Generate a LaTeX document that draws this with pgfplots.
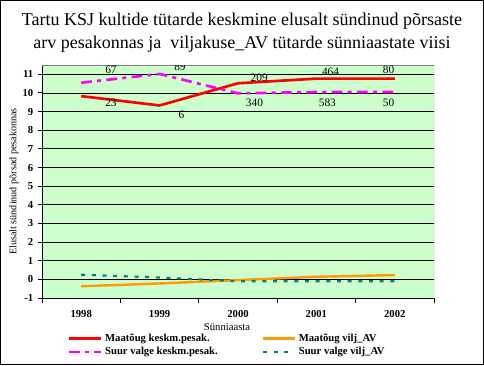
\documentclass[border=0pt]{standalone}
\usepackage{pgfplots}
\pgfplotsset{compat=1.18}
\usepackage{fontspec}
\setmainfont{Liberation Serif}
\definecolor{bgg}{HTML}{CCFFCC}
\definecolor{cred}{HTML}{FF0000}
\definecolor{corange}{HTML}{FF9900}
\definecolor{cmag}{HTML}{FF00FF}
\definecolor{cteal}{HTML}{008080}
\begin{document}
\begin{tikzpicture}
\path[use as bounding box] (0,0) rectangle (363pt,273.75pt);
\draw[black, line width=1pt] (0.5pt,0.5pt) rectangle (362.5pt,273.25pt);
\node[align=center, font=\fontsize{13.5}{17.25}\selectfont] at (181.5pt,249pt)
 {Tartu KSJ kultide tütarde keskmine elusalt sündinud põrsaste\\arv pesakonnas ja\ \ viljakuse\_AV tütarde sünniaastate viisi};
\begin{axis}[
  at={(31.5pt,50.25pt)}, anchor=south west,
  scale only axis, width=294pt, height=174.75pt,
  xmin=-0.5, xmax=4.5, ymin=-1, ymax=11.5,
  axis background/.style={fill=bgg},
  axis x line=bottom, axis y line=left,
  axis line style={-, black, line width=0.75pt},
  xtick={0,1,2,3,4}, xticklabels={1998,1999,2000,2001,2002},
  major x tick style={draw=none},
  minor xtick={-0.5,0.5,1.5,2.5,3.5,4.5},
  minor x tick style={black, line width=0.75pt},
  minor tick length=4pt,
  ytick={-1,0,...,11},
  major tick length=3pt,
  y tick style={black, line width=0.75pt},
  tick align=outside,
  ymajorgrids, major grid style={black, line width=0.6pt},
  /pgf/number format/assume math mode=true,
  ticklabel style={font=\fontsize{8}{9}\bfseries},
  xticklabel style={yshift=-3pt},
  xlabel={Sünniaasta},
  xlabel style={at={(axis description cs:0.472,-0.123)}, anchor=center, font=\fontsize{8}{9}\selectfont},
  ylabel={Elusalt sündinud põrsad pesakonnas},
  ylabel style={at={(axis description cs:-0.0714,0.5)}, anchor=center, font=\fontsize{7.6}{8}\selectfont},
  legend columns=2,
  legend style={at={(axis description cs:0.055,-0.13)}, anchor=north west, draw=none, fill=none,
    font=\fontsize{8}{9}\bfseries, row sep=-1pt,
    /tikz/every even column/.append style={column sep=31pt}},
  legend cell align=left,
  legend image code/.code={\draw[#1] (0pt,0pt) -- (24pt,0pt);},
]
\addplot[cred, line width=2pt] coordinates {(0,9.83) (1,9.33) (2,10.52) (3,10.77) (4,10.77)};
\addlegendentry{Maatõug keskm.pesak.}
\addplot[corange, line width=1.8pt] coordinates {(0,-0.37) (1,-0.22) (2,-0.04) (3,0.14) (4,0.23)};
\addlegendentry{Maatõug vilj\_AV}
\addplot[cmag, line width=2pt, dash pattern=on 8pt off 4pt on 3pt off 4pt] coordinates {(0,10.55) (1,11.02) (2,9.98) (3,10.05) (4,10.05)};
\addlegendentry{Suur valge keskm.pesak.}
\addplot[cteal, line width=1.6pt, dash pattern=on 3pt off 5pt] coordinates {(0,0.25) (1,0.1) (2,-0.1) (3,-0.1) (4,-0.1)};
\addlegendentry{Suur valge vilj\_AV}
\draw[gray, line width=0.6pt] (rel axis cs:0,1) -- (rel axis cs:1,1) -- (rel axis cs:1,0);
\begin{scope}[every node/.style={font=\fontsize{8.5}{9}\selectfont, inner sep=0pt}]
\node at (axis cs:0.38,11.23) {67};
\node at (axis cs:0.38,9.46) {23};
\node at (axis cs:1.26,11.39) {89};
\node at (axis cs:1.28,8.82) {6};
\node at (axis cs:2.27,10.80) {209};
\node at (axis cs:2.21,9.46) {340};
\node at (axis cs:3.18,11.12) {464};
\node at (axis cs:3.14,9.46) {583};
\node at (axis cs:3.92,11.23) {80};
\node at (axis cs:3.92,9.46) {50};
\end{scope}
\end{axis}
\end{tikzpicture}
\end{document}
